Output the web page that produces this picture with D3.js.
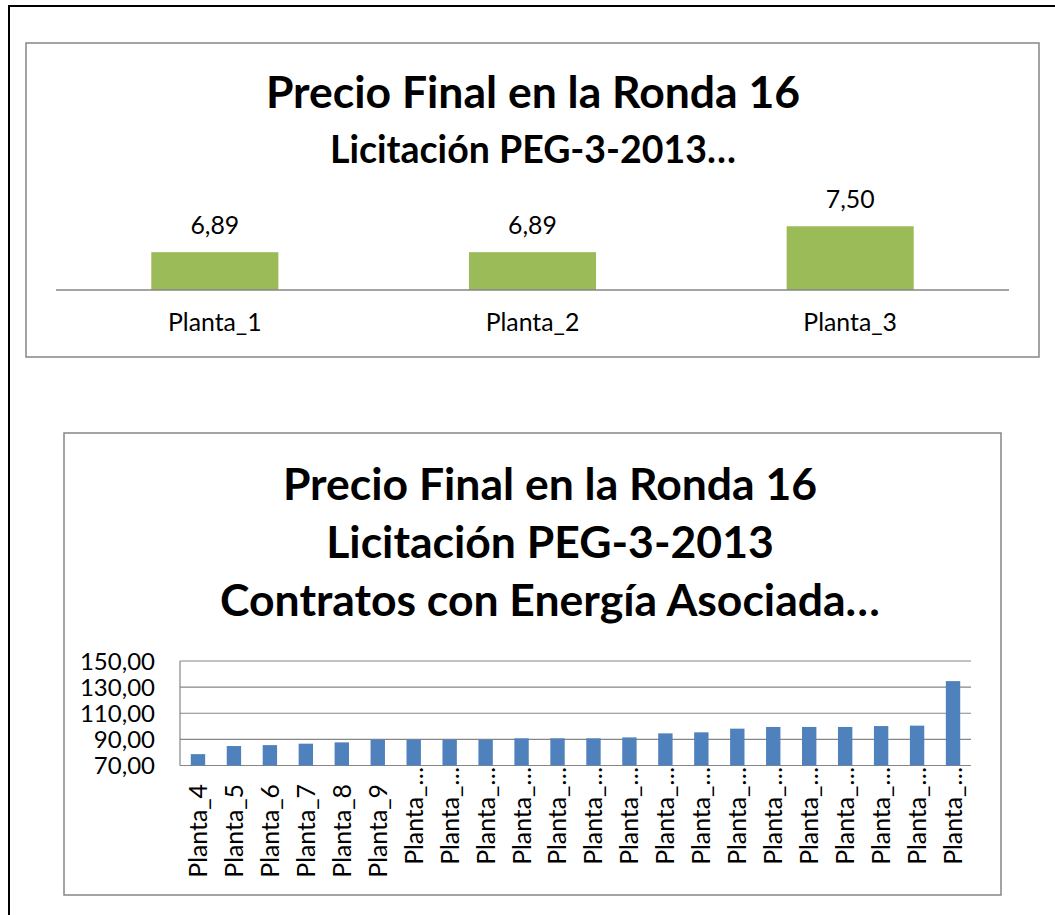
<!DOCTYPE html>
<html>
<head>
<meta charset="utf-8">
<script src="https://cdn.jsdelivr.net/npm/d3@7"></script>
<style>
  body { margin: 0; background: #fff; }
  text { font-family: Lato, "Open Sans", sans-serif; fill: #000; }
</style>
</head>
<body>
<script>
// top chart data
var topCategories = ["Planta_1", "Planta_2", "Planta_3"];
var topValues = [6.89, 6.89, 7.50];
var topTitle = ["Precio Final en la Ronda 16", "Licitación PEG-3-2013…"];

// bottom chart data
var bottomCategories = ["Planta_4", "Planta_5", "Planta_6", "Planta_7", "Planta_8", "Planta_9",
    "Planta_10", "Planta_11", "Planta_12", "Planta_13", "Planta_14", "Planta_15", "Planta_16",
    "Planta_17", "Planta_18", "Planta_19", "Planta_20", "Planta_21", "Planta_22", "Planta_23",
    "Planta_24", "Planta_25"];
var bottomLabels = ["Planta_4", "Planta_5", "Planta_6", "Planta_7", "Planta_8", "Planta_9",
    "Planta_…", "Planta_…", "Planta_…", "Planta_…", "Planta_…", "Planta_…", "Planta_…",
    "Planta_…", "Planta_…", "Planta_…", "Planta_…", "Planta_…", "Planta_…", "Planta_…",
    "Planta_…", "Planta_…"];
var bottomValues = [78.7, 84.9, 85.6, 86.7, 87.7, 89.8, 89.8, 89.8, 89.8, 90.8, 90.8,
    90.8, 91.5, 94.6, 95.4, 98.2, 99.5, 99.5, 99.5, 100.2, 100.5, 134.6];
var bottomTicks = [70, 90, 110, 130, 150];
var bottomTitle = ["Precio Final en la Ronda 16", "Licitación PEG-3-2013", "Contratos con Energía Asociada…"];

var width = 1055;
var height = 915;
var gray = "#868686";
var labelSize = 24.8;
var fmt = v => d3.format(".2f")(v).replace(".", ",");

const svg = d3.select("body").append("svg")
    .attr("width", width)
    .attr("height", height)
    .style("display", "block");

// page frame
svg.append("rect")
    .attr("x", 9).attr("y", 6)
    .attr("width", 1200).attr("height", 1000)
    .attr("fill", "#fff")
    .attr("stroke", "#000")
    .attr("stroke-width", 2);

function drawTopChart() {
    const g = svg.append("g");

    g.append("rect")
        .attr("x", 26).attr("y", 43)
        .attr("width", 1013).attr("height", 314)
        .attr("fill", "#fff")
        .attr("stroke", gray)
        .attr("stroke-width", 1.5);

    g.selectAll(".title")
        .data(topTitle)
        .join("text")
        .attr("x", 533)
        .attr("y", (d, i) => i == 0 ? 108 : 163)
        .attr("text-anchor", "middle")
        .attr("font-weight", "bold")
        .attr("font-size", (d, i) => i == 0 ? 44.5 : 37.5)
        .text(d => d);

    const x = d3.scaleBand()
        .domain(topCategories)
        .range([56, 1009])
        .paddingInner(0.6)
        .paddingOuter(0.3);

    const y = d3.scaleLinear()
        .domain([6, 8])
        .range([290, 205]);

    g.selectAll(".bar")
        .data(topValues)
        .join("rect")
        .attr("x", (d, i) => x(topCategories[i]))
        .attr("y", d => y(d))
        .attr("width", x.bandwidth())
        .attr("height", d => y(6) - y(d))
        .attr("fill", "#9BBB59");

    g.append("line")
        .attr("x1", 56).attr("x2", 1009)
        .attr("y1", y(6)).attr("y2", y(6))
        .attr("stroke", gray)
        .attr("stroke-width", 1.5);

    g.selectAll(".val")
        .data(topValues)
        .join("text")
        .attr("x", (d, i) => x(topCategories[i]) + x.bandwidth() / 2)
        .attr("y", d => y(d) - 18)
        .attr("text-anchor", "middle")
        .attr("font-size", labelSize)
        .text(d => fmt(d));

    g.selectAll(".cat")
        .data(topCategories)
        .join("text")
        .attr("x", d => x(d) + x.bandwidth() / 2)
        .attr("y", 331)
        .attr("text-anchor", "middle")
        .attr("font-size", labelSize)
        .text(d => d);
}

function drawBottomChart() {
    const g = svg.append("g");

    g.append("rect")
        .attr("x", 64).attr("y", 433)
        .attr("width", 937).attr("height", 462)
        .attr("fill", "#fff")
        .attr("stroke", gray)
        .attr("stroke-width", 1.5);

    g.selectAll(".title")
        .data(bottomTitle)
        .join("text")
        .attr("x", 550)
        .attr("y", (d, i) => 500 + i * 58)
        .attr("text-anchor", "middle")
        .attr("font-weight", "bold")
        .attr("font-size", 44.5)
        .text(d => d);

    const x = d3.scaleBand()
        .domain(bottomCategories)
        .range([180, 971])
        .paddingInner(0.6)
        .paddingOuter(0.3);

    const y = d3.scaleLinear()
        .domain([70, 150])
        .range([765.5, 661]);

    // gridlines
    g.selectAll(".grid")
        .data(bottomTicks)
        .join("line")
        .attr("x1", 180).attr("x2", 971)
        .attr("y1", d => y(d)).attr("y2", d => y(d))
        .attr("stroke", gray)
        .attr("stroke-width", 1.2);

    g.append("line")
        .attr("x1", 180).attr("x2", 180)
        .attr("y1", y(150)).attr("y2", y(70))
        .attr("stroke", gray)
        .attr("stroke-width", 1.2);

    g.selectAll(".tick")
        .data(bottomTicks)
        .join("text")
        .attr("x", 155)
        .attr("y", d => y(d))
        .attr("dy", "0.36em")
        .attr("text-anchor", "end")
        .attr("font-size", 24)
        .text(d => fmt(d));

    g.selectAll(".bar")
        .data(bottomValues)
        .join("rect")
        .attr("x", (d, i) => x(bottomCategories[i]))
        .attr("y", d => y(d))
        .attr("width", x.bandwidth())
        .attr("height", d => y(70) - y(d))
        .attr("fill", "#4F81BD");

    g.selectAll(".cat")
        .data(bottomLabels)
        .join("text")
        .attr("transform", (d, i) => {
            const cx = x(bottomCategories[i]) + x.bandwidth() / 2;
            const top = d.endsWith("…") ? 767 : 784;
            return `translate(${cx},${top}) rotate(-90)`;
        })
        .attr("dy", "0.36em")
        .attr("text-anchor", "end")
        .attr("font-size", labelSize)
        .text(d => d);
}

drawTopChart();
drawBottomChart();
</script>
</body>
</html>
